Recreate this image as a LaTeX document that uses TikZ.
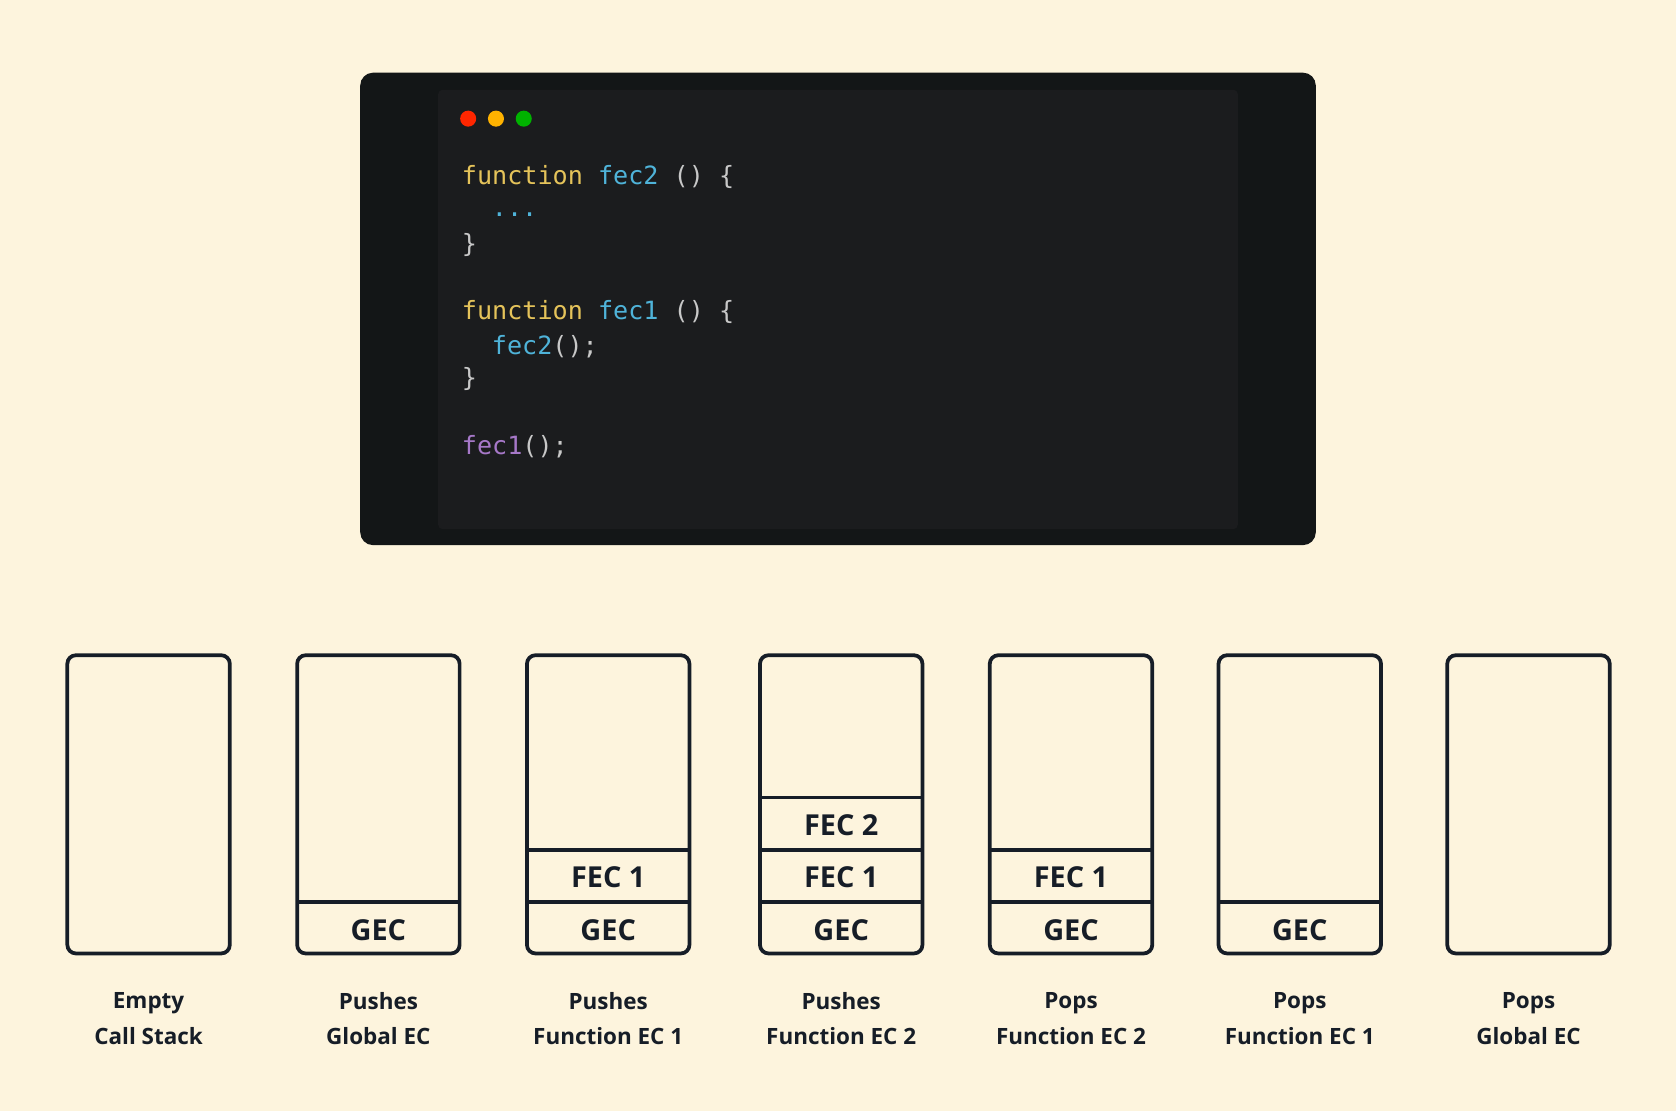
\documentclass[tikz,border=0pt]{standalone}
\usepackage{fontspec}
\setmainfont{Open Sans}
\newfontfamily\codefont{DejaVu Sans Mono}
\definecolor{bg}{HTML}{FDF4DD}
\definecolor{ink}{HTML}{161D27}
\definecolor{win}{HTML}{131617}
\definecolor{pane}{HTML}{1B1C1E}
\definecolor{kw}{HTML}{E5C35A}
\definecolor{fn}{HTML}{4FB3D9}
\definecolor{pu}{HTML}{C8C8C8}
\definecolor{pr}{HTML}{A678C8}
\begin{document}
\begin{tikzpicture}[x=1pt,y=-1pt,
  stackbox/.style={draw=ink,line width=3.5pt,rounded corners=8pt},
  divline/.style={draw=ink,line width=3.5pt},
  frame/.style={font=\bfseries\fontsize{27}{30}\selectfont,text=ink},
  captext/.style={font=\bfseries\fontsize{21}{33}\selectfont,text=ink,align=center},
  code/.style={anchor=west,inner sep=0pt,font=\codefont\fontsize{23.5}{26}\selectfont,text=pu}]
\useasboundingbox[fill=bg] (0,0) rectangle (1568,1039);
\fill[win,rounded corners=12pt] (337,68) rectangle (1231,510);
\fill[pane,rounded corners=4pt] (410,84) rectangle (1158,495);
\fill[red!70!orange] (438,111) circle (7.5);
\fill[orange!60!yellow] (464,111) circle (7.5);
\fill[green!70!black] (490,111) circle (7.5);
\node[code] (l1) at (432,166) {\textcolor{kw}{function} \textcolor{fn}{fec2} () \{};
\node[code] (l2) at (460,201) {\textcolor{fn}{...}};
\node[code] (l3) at (432,229) {\}};
\node[code] (l4) at (432,292) {\textcolor{kw}{function} \textcolor{fn}{fec1} () \{};
\node[code] (l5) at (460,324) {\textcolor{fn}{fec2}();};
\node[code] (l6) at (432,355) {\}};
\node[code] (l7) at (432,418) {\textcolor{pr}{fec1}();};
\foreach \i/\x/\n/\a/\b in {1/63/0/Empty/Call Stack,2/278/1/Pushes/Global EC,3/493/2/Pushes/Function EC 1,4/711/3/Pushes/Function EC 2,5/926/2/Pops/Function EC 2,6/1140/1/Pops/Function EC 1,7/1354/0/Pops/Global EC}{
  \draw[stackbox] (\x,613) rectangle (\x+152,892);
  \node[captext] (c\i) at (\x+76,953) {\a\\\b};
  \ifnum\n>0 \draw[divline] (\x,844) -- (\x+152,844); \node[frame] (g\i) at (\x+76,870) {GEC};\fi
  \ifnum\n>1 \draw[divline] (\x,795) -- (\x+152,795); \node[frame] (f\i) at (\x+76,821) {FEC 1};\fi
  \ifnum\n>2 \draw[divline] (\x,746) -- (\x+152,746); \node[frame] (h\i) at (\x+76,772) {FEC 2};\fi
}
\end{tikzpicture}
\end{document}
